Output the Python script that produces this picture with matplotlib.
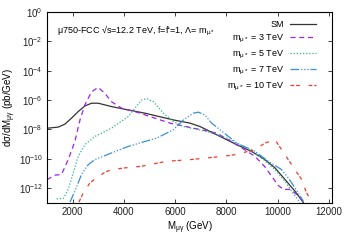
import matplotlib
matplotlib.use("Agg")
import matplotlib.pyplot as plt
import numpy as np

plt.rcParams["font.family"] = ["Liberation Sans", "DejaVu Sans"]
plt.rcParams["mathtext.fontset"] = "custom"
plt.rcParams["mathtext.rm"] = "Liberation Sans"
plt.rcParams["mathtext.it"] = "Liberation Sans:italic"

# Curves: M (GeV) and log10(dsigma/dM)
sm_m = [1000, 1050, 1440, 1700, 1960, 2220, 2480, 2740, 3000, 3520, 4170, 4820,
        5930, 6580, 6970, 7360, 7880, 8400, 8980, 9500, 9890, 10280, 10670, 11000]
sm_lg = [-7.93, -7.92, -7.85, -7.65, -7.24, -6.79, -6.41, -6.22, -6.22, -6.45, -6.68, -6.90,
         -7.36, -7.58, -7.81, -8.15, -8.60, -9.05, -9.51, -10.07, -10.63, -11.42, -12.22, -13.0]

m3_m = [1000, 1050, 1310, 1570, 1830, 2090, 2290, 2480, 2740, 3000, 3260, 3520, 3910,
        4430, 5210, 5800, 6710, 7620, 8400, 9110, 9500, 9760, 10020, 10220, 10480,
        10740, 10930, 11000]
m3_lg = [-11.42, -11.39, -11.13, -11.08, -10.07, -8.83, -7.36, -6.34, -5.44, -5.14, -5.55,
         -6.12, -6.56, -6.79, -7.24, -7.58, -7.92, -8.26, -9.05, -9.84, -10.56, -11.2,
         -11.83, -12.1, -12.1, -12.44, -12.78, -13.0]

m5_m = [1380, 1640, 1830, 2030, 2220, 2480, 2870, 3520, 4170, 4690, 4890, 5150, 5540,
        5930, 6320, 7230, 8010, 8400, 9110, 9500, 9890, 10280, 10540, 10750, 10870]
m5_lg = [-12.75, -12.71, -12.1, -10.97, -9.84, -9.05, -8.49, -7.92, -7.13, -6.0, -5.90,
         -6.12, -6.9, -7.47, -7.81, -8.15, -8.6, -8.94, -9.6, -10.14, -10.75, -11.54,
         -12.22, -12.71, -13.0]

m7_m = [1900, 2090, 2350, 2610, 2870, 3520, 4170, 4820, 5280, 5930, 6320, 6710, 6900,
        7160, 7420, 7750, 8400, 9110, 9630, 10150, 10410, 10670, 10870, 11000]
m7_lg = [-12.96, -12.22, -11.08, -10.41, -10.07, -9.61, -9.17, -8.83, -8.6, -8.03, -7.36,
         -6.9, -6.83, -7.02, -7.58, -8.03, -8.94, -9.5, -10.18, -10.75, -11.31, -11.99,
         -12.56, -12.9]

m10_m = [2250, 2420, 2680, 2940, 3260, 3520, 4040, 4690, 5670, 6580, 7880, 8330, 9110,
         9500, 9890, 10280, 10670, 10930, 11120, 11300]
m10_lg = [-12.96, -12.33, -11.65, -11.31, -10.93, -10.75, -10.63, -10.52, -10.18, -10.07,
          -9.84, -9.73, -9.39, -8.94, -8.71, -9.73, -10.75, -11.42, -12.33, -12.85]

x_ticks = [2000, 4000, 6000, 8000, 10000, 12000]
y_ticks = [1e-12, 1e-10, 1e-8, 1e-6, 1e-4, 1e-2, 1e0]

fig = plt.figure(figsize=(3.5, 2.45), dpi=100)
ax = fig.add_axes([0.134, 0.173, 0.815, 0.778])

mu = r"$\mathrm{_{μ*}}$"
ax.plot(sm_m, 10 ** np.array(sm_lg), color="#333333", lw=0.9, label="SM")
ax.plot(m3_m, 10 ** np.array(m3_lg), color="#A020F0", lw=0.9, dashes=(4, 3),
        label="m" + mu + " = 3 TeV")
ax.plot(m5_m, 10 ** np.array(m5_lg), color="#30B090", lw=0.9, dashes=(1, 1.5),
        label="m" + mu + " = 5 TeV")
ax.plot(m7_m, 10 ** np.array(m7_lg), color="#3A8FD8", lw=0.9,
        dashes=(7, 1.5, 1, 1.5, 1, 1.5, 1, 1.5), label="m" + mu + " = 7 TeV")
ax.plot(m10_m, 10 ** np.array(m10_lg), color="#F03C30", lw=0.9,
        dashes=(3, 1.5, 3, 7), label="m" + mu + " = 10 TeV")

ax.set_yscale("log")
ax.set_xlim(1000, 12120)
ax.set_ylim(1e-13, 1)
ax.set_xticks(x_ticks)
ax.set_yticks(y_ticks)
ax.minorticks_off()
ax.tick_params(direction="in", length=3, width=0.6, top=True, right=True,
               labelsize=7, pad=3, colors="#222222")
for sp in ax.spines.values():
    sp.set_linewidth(0.8)

ax.set_xlabel(r"M$\mathrm{_{μγ}}$ (GeV)", fontsize=7, labelpad=2)
ax.set_ylabel(r"dσ/dM$\mathrm{_{μγ}}$ (pb/GeV)", fontsize=7, labelpad=0.5)

ax.text(0.035, 0.90, "μ750-FCC √s=12.2 TeV, f=f'=1, Λ= m" + mu,
        transform=ax.transAxes, fontsize=6.5, va="center", ha="left")

ax.legend(loc="upper right", bbox_to_anchor=(0.965, 0.99), frameon=False,
          markerfirst=False, fontsize=6.5, handlelength=2.9, labelspacing=0.42,
          handletextpad=0.6, borderpad=0.2)

fig.savefig("out.png", dpi=100)
